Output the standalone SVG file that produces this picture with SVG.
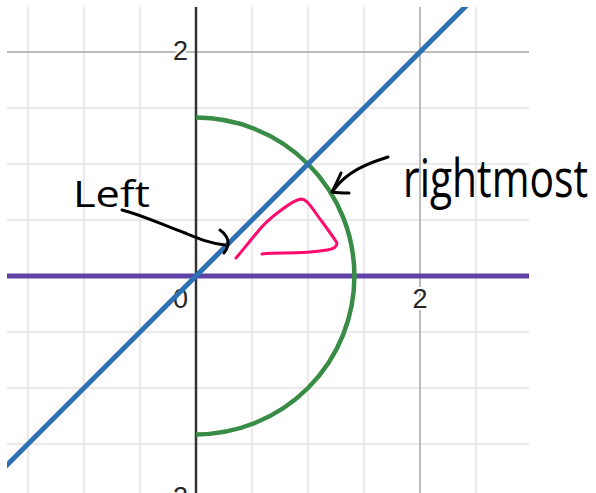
<svg xmlns="http://www.w3.org/2000/svg" width="596" height="493" viewBox="0 0 596 493">
<style>
.minor{stroke:#e3e3e3;stroke-width:1.5;fill:none}
.major{stroke:#a6a6a6;stroke-width:1.5;fill:none}
.lbl{font-family:"Liberation Sans",Arial,sans-serif;font-size:27px;fill:#262626;stroke:#fff;stroke-width:4;paint-order:stroke;stroke-linejoin:round}
.hand{font-family:"Open Sans",Inter,"DejaVu Sans",sans-serif;font-weight:400;fill:#000}
.ink{fill:none;stroke:#000;stroke-width:3;stroke-linecap:round;stroke-linejoin:round}
</style>
<defs>
<clipPath id="plot"><rect x="7" y="7" width="522" height="486"/></clipPath>
</defs>
<rect width="596" height="493" fill="#fff"/>
<g id="grid" clip-path="url(#plot)">
<path class="minor" d="M28,7V493M84,7V493M140,7V493M252,7V493M308,7V493M364,7V493M476,7V493M7,108H529M7,164H529M7,220H529M7,332H529M7,388H529M7,444H529"/>
<path class="major" d="M420,7V493M7,52H529"/>
</g>
<g id="labels">
<text class="lbl" x="188" y="60" text-anchor="end">2</text>
<text class="lbl" x="188" y="308" text-anchor="end">0</text>
<text class="lbl" x="420" y="308" text-anchor="middle">2</text>
<text class="lbl" x="188" y="506" text-anchor="end">−2</text>
</g>
<g id="axes">
<line x1="196" y1="7" x2="196" y2="493" stroke="#333" stroke-width="2.5"/>
</g>
<g id="curves" clip-path="url(#plot)">
<line id="purple-line" x1="7" y1="276" x2="529" y2="276" stroke="#6042a6" stroke-width="5"/>
<path id="green-arc" d="M196,117.6A158.4,158.4 0 0 1 196,434.4" fill="none" stroke="#388c46" stroke-width="4.5"/>
<line id="blue-line" x1="0" y1="472" x2="472" y2="0" stroke="#2d70b3" stroke-width="5"/>
</g>
<g id="pink-scribble">
<path d="M236,258C243,250 249,242 255,235C262,226 270,218 280,211C288,205 294,200 301,199C306,199 310,205 315,212C322,222 330,232 337,243C337,247 334,249 327,250C315,252 300,253 285,253C275,253 268,253 262,254" fill="none" stroke="#ff0a6c" stroke-width="3" stroke-linecap="round" stroke-linejoin="round"/>
</g>
<g id="note-left">
<text class="hand" x="73" y="207" font-size="36" textLength="77" lengthAdjust="spacingAndGlyphs">Left</text>
</g>
<g id="note-rightmost">
<text class="hand" transform="translate(403,197) scale(1.2,1.55)" x="0" y="0" font-size="34">rightmost</text>
</g>
<g id="connectors">
<path class="ink" d="M122,210C145,216 165,226 185,233C200,239 212,244 225,245"/>
<path class="ink" d="M220,230C226,234 229,240 228,245C227,249 226,251 224,253"/>
<path class="ink" d="M388,157C372,162 358,168 350,174C343,179 337,185 333,191"/>
<path class="ink" d="M341,173C338,180 335,186 332,192C338,193 343,193 349,193"/>
</g>
</svg>
